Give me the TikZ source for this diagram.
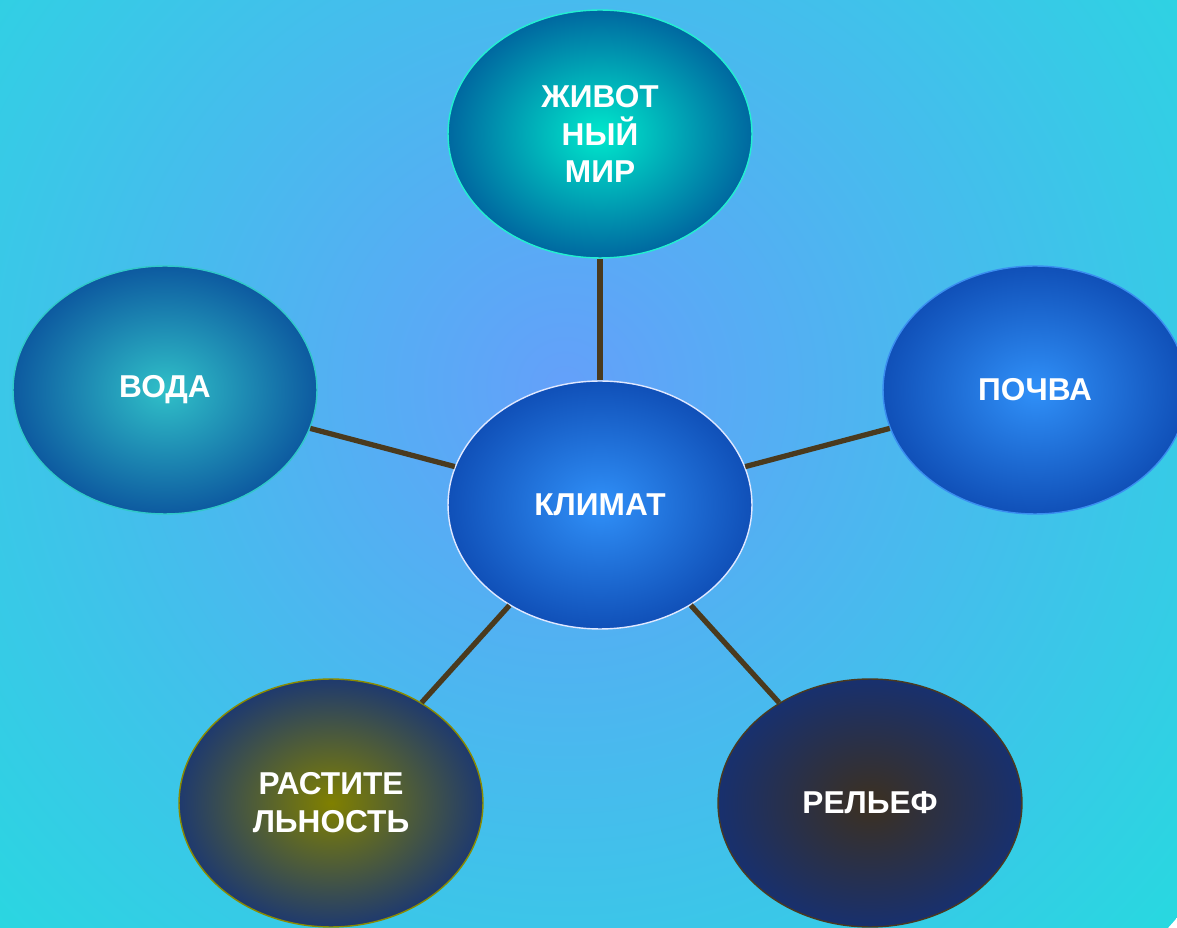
\documentclass[tikz,border=0pt]{standalone}
\usepackage{fontspec}
\setmainfont{Liberation Sans}
\usepackage{tikz}
\usetikzlibrary{shapes.geometric}
\definecolor{bgin}{HTML}{64A0FA}
\definecolor{bgout}{HTML}{28D8E0}
\definecolor{linkbrown}{HTML}{4A3A1E}
\definecolor{aquain}{HTML}{00E8CC}
\definecolor{aquaout}{HTML}{0068A0}
\definecolor{aquarim}{HTML}{22F0D0}
\definecolor{tealin}{HTML}{30C0C8}
\definecolor{tealout}{HTML}{0D5AA0}
\definecolor{tealrim}{HTML}{30C8C8}
\definecolor{bluein}{HTML}{3090F8}
\definecolor{blueout}{HTML}{1050B8}
\definecolor{bluerim}{HTML}{3A8EF0}
\definecolor{paleRim}{HTML}{E0E8FF}
\definecolor{olivein}{HTML}{808000}
\definecolor{oliveout}{HTML}{1F3A6E}
\definecolor{oliverim}{HTML}{8A8A00}
\definecolor{brownin}{HTML}{3C3020}
\definecolor{brownout}{HTML}{18306E}
\definecolor{brownrim}{HTML}{4A3A20}
\tikzset{
    bubble/.style={ellipse, minimum width=6.08cm, minimum height=4.96cm,
        inner sep=0pt, line width=0.8pt, text=white, align=center,
        font=\bfseries\fontsize{18pt}{21.6pt}\selectfont},
    link/.style={draw=linkbrown, line width=3pt},
}

\begin{document}
\begin{tikzpicture}[x=0.02cm, y=0.02cm]
	\useasboundingbox (0,0) rectangle (1177,927);
	\clip (0,0) rectangle (1177,927);
	\shade[inner color=bgin, outer color=bgout] (565,540) circle (810);
	% nodes
	\node[bubble, inner color=aquain, outer color=aquaout, draw=aquarim] (animals) at (600,793) {ЖИВОТ\\НЫЙ\\МИР};
	\node[bubble, inner color=tealin, outer color=tealout, draw=tealrim] (water) at (165,537) {ВОДА};
	\node[bubble, inner color=bluein, outer color=blueout, draw=bluerim] (soil) at (1035,537) {ПОЧВА};
	\node[bubble, inner color=bluein, outer color=blueout, draw=paleRim] (climate) at (600,422) {КЛИМАТ};
	\node[bubble, inner color=olivein, outer color=oliveout, draw=oliverim] (plants) at (331,124) {РАСТИТЕ\\ЛЬНОСТЬ};
	\node[bubble, inner color=brownin, outer color=brownout, draw=brownrim] (relief) at (870,124) {РЕЛЬЕФ};
	% links
	\draw[link] (climate) -- (animals);
	\draw[link] (climate) -- (water);
	\draw[link] (climate) -- (soil);
	\draw[link] (climate) -- (plants);
	\draw[link] (climate) -- (relief);
\end{tikzpicture}
\end{document}
